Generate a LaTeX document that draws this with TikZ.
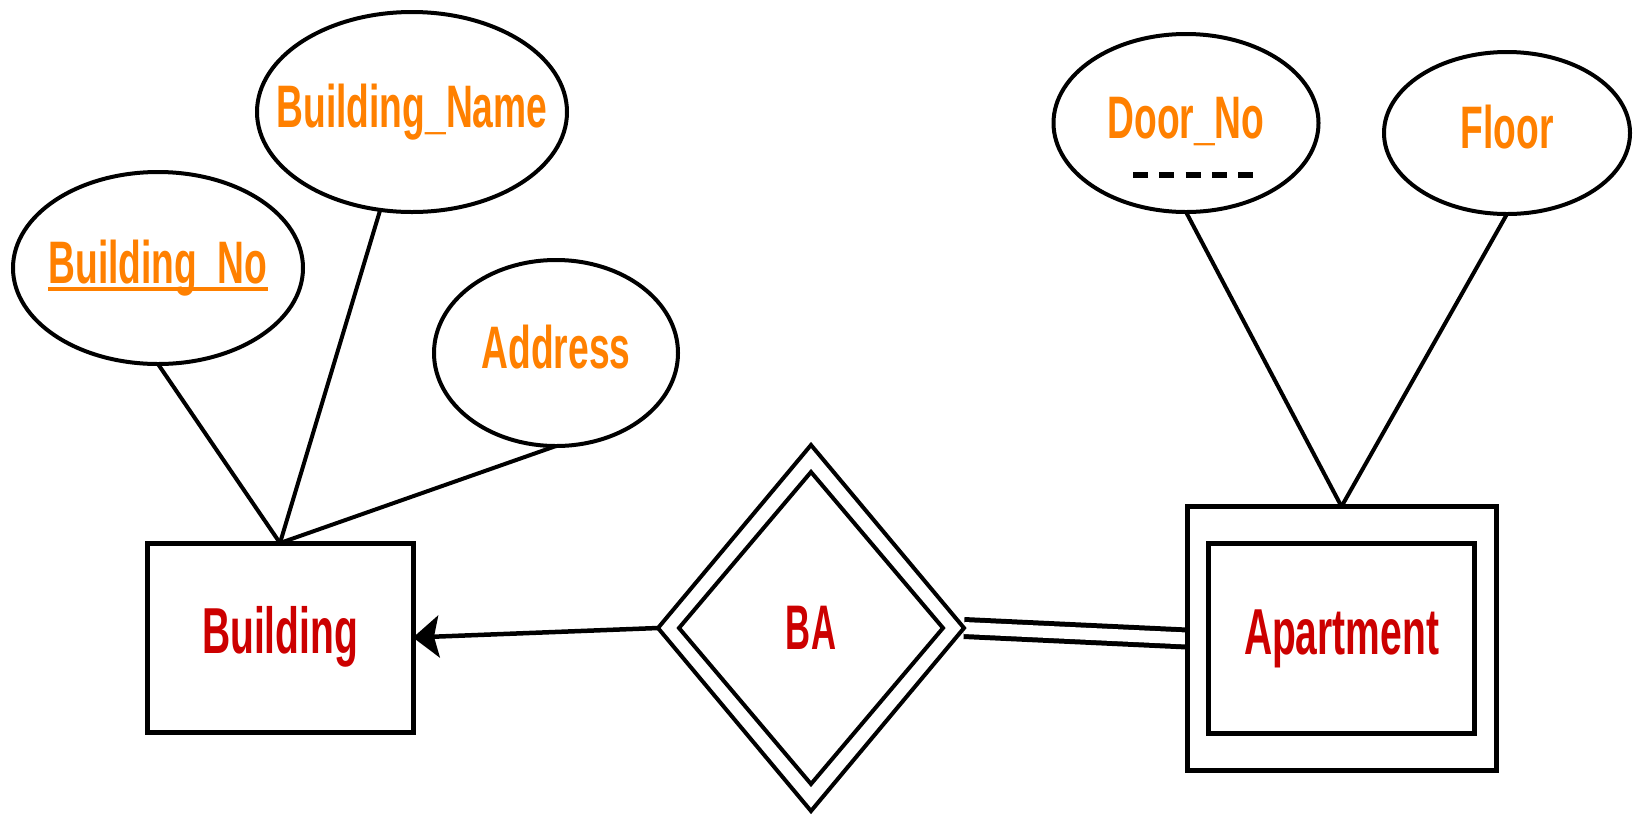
\documentclass[tikz,border=0pt]{standalone}
\usepackage{fontspec}
\setmainfont{Liberation Sans}
\newfontfamily\attrfont{Liberation Sans}[FakeStretch=0.62]
\newfontfamily\entfont{Liberation Sans}[FakeStretch=0.60]
\newfontfamily\relfont{Liberation Sans}[FakeStretch=0.55]
\usetikzlibrary{shapes.geometric,arrows.meta}
\definecolor{attrorange}{RGB}{255,128,0}
\definecolor{entred}{RGB}{204,0,0}
\newsavebox\keybox
\newcommand\keytext[1]{\sbox\keybox{#1}\rlap{\rule[-7.5pt]{\wd\keybox}{4pt}}\usebox\keybox}
\pgfdeclarelayer{bg}
\pgfsetlayers{bg,main}
\begin{document}
\begin{tikzpicture}[x=1pt,y=-1pt,
  attr/.style={ellipse, draw, line width=4pt, inner sep=0pt, outer sep=0pt,
    text=attrorange, font=\attrfont\bfseries\fontsize{60}{60}\selectfont,
    text height=43pt, text depth=12.6pt},
  entity/.style={rectangle, draw, line width=5pt, inner sep=0pt, outer sep=0pt,
    text=entred, font=\entfont\bfseries\fontsize{65}{65}\selectfont,
    text height=46.5pt, text depth=13.7pt},
  rel/.style={diamond, draw, line width=4pt, inner sep=0pt, outer sep=0pt,
    text=entred, font=\relfont\bfseries\fontsize{63}{63}\selectfont},
  conn/.style={line width=4pt},
  partialkey/.style={line width=5.5pt, dash pattern=on 15pt off 11.25pt}
]
\useasboundingbox (0,0) rectangle (1635,815);

% attributes
\node[attr, minimum width=290pt, minimum height=192pt] (bno) at (158,268) {\makebox[0pt]{\keytext{Building\_No}}};
\node[attr, minimum width=310pt, minimum height=200pt] (bname) at (412,112) {\makebox[0pt]{Building\_Name}};
\node[attr, minimum width=244pt, minimum height=186pt] (addr) at (556,353) {\makebox[0pt]{Address}};
\node[attr, minimum width=265pt, minimum height=178pt] (dno) at (1186,123) {\makebox[0pt]{Door\_No}};
\node[attr, minimum width=246pt, minimum height=162pt] (floor) at (1507,133) {\makebox[0pt]{Floor}};

% entities
\node[entity, minimum width=266pt, minimum height=189pt] (building) at (280,637.5) {Building};
\node[entity, minimum width=309pt, minimum height=264pt] (apt) at (1341.5,638.5) {};
\node[entity, minimum width=266pt, minimum height=190pt] (aptin) at (apt.center) {Apartment};

% relationship
\node[rel, minimum width=306pt, minimum height=366pt] (ba) at (811,628) {};
\node[rel, minimum width=264pt, minimum height=312pt] (bain) at (ba.center) {\raisebox{-2pt}{BA}};

% partial key marker
\draw[partialkey] ([xshift=-53pt,yshift=-52pt]dno.center) -- ([xshift=67pt,yshift=-52pt]dno.center);

\begin{pgfonlayer}{bg}
\draw[conn] (bno.south) -- (building.north);
\draw[conn] (bname.252) -- (building.north);
\draw[conn] (addr.south) -- (building.north);
\draw[conn] (dno.south) -- (apt.north);
\draw[conn] (floor.south) -- (apt.north);
\draw[line width=4.5pt, -{Stealth[length=26pt,width=42pt,inset=5pt]}] (ba.west) -- (building.east);
\draw[line width=5pt, double, double distance=12pt] (ba.east) -- (apt.west);
\end{pgfonlayer}
\end{tikzpicture}
\end{document}
